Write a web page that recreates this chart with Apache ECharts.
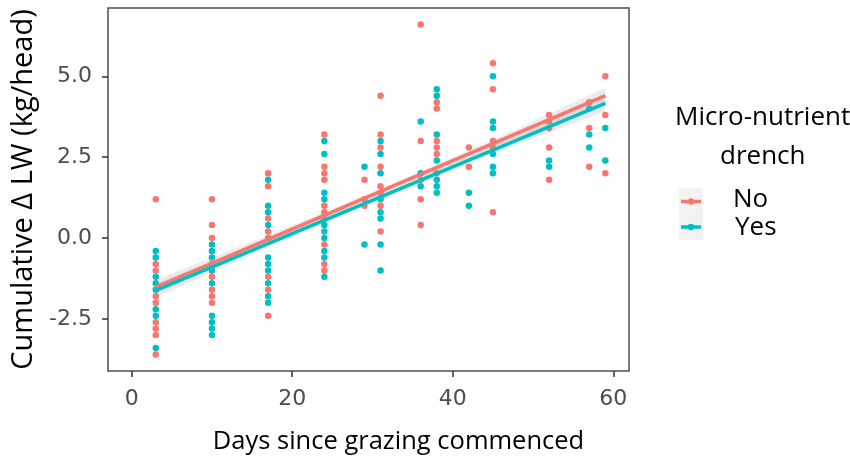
<!DOCTYPE html>
<html>
<head>
<meta charset="utf-8">
<script src="https://cdn.jsdelivr.net/npm/echarts@6/dist/echarts.min.js"></script>
<style>
  html, body { margin: 0; padding: 0; background: #fff; }
  #chart { width: 850px; height: 459px; }
</style>
</head>
<body>
<div id="chart"></div>
<script>
// Sampling days (x positions of each column of points)
const days = [3, 10, 17, 24, 29, 31, 36, 38, 42, 45, 52, 57, 59];

// Cumulative change in liveweight (kg/head) per sampling day, untreated group
const noValues = [
  [1.2, -0.8, -1.0, -1.8, -2.0, -2.6, -2.8, -3.0, -3.6],
  [1.2, 0.4, 0.0, -0.8, -1.2, -1.6, -1.8, -2.0],
  [2.0, 1.6, 0.6, 0.2, 0.0, -1.2, -1.6, -2.4],
  [3.2, 2.2, 2.0, 1.8, 1.0, 0.8, 0.6, -0.2, -0.8, -1.0],
  [1.8, 1.2, 1.0],
  [4.4, 3.2, 2.8, 2.2, 1.6, 1.4, 1.0, 0.2],
  [6.6, 3.0, 1.8, 1.2, 0.4],
  [4.2, 4.0, 3.0, 2.8, 2.6, 2.0],
  [2.8, 2.2],
  [5.4, 4.6, 3.0, 2.8, 0.8],
  [3.8, 3.6, 3.4, 2.8, 1.8],
  [4.2, 3.4, 2.2],
  [5.0, 3.8, 2.0]
];

// Same measurements for the drenched group
const yesValues = [
  [-0.4, -0.6, -1.2, -1.4, -1.6, -2.2, -2.4, -3.4],
  [-0.2, -0.4, -0.6, -1.0, -1.4, -2.4, -2.6, -2.8, -3.0],
  [1.8, 1.0, 0.8, 0.4, -0.6, -0.8, -1.0, -1.4, -1.8, -2.0],
  [3.0, 2.6, 1.4, 1.2, 0.4, 0.2, 0.0, -0.4, -0.6, -1.2],
  [2.2, -0.2],
  [3.0, 2.6, 2.0, 1.2, 0.8, 0.6, -0.2, -1.0],
  [3.6, 2.0, 1.6],
  [4.6, 4.4, 3.2, 2.4, 1.8, 1.6, 1.4],
  [1.4, 1.0],
  [5.0, 3.6, 3.4, 2.6, 2.2, 2.0],
  [2.4, 2.2],
  [4.0, 3.2, 2.8],
  [3.4, 2.4]
];

// Fitted trend per group (model estimate) and half-width of its confidence ribbon
const fitDays = [3, 17, 31, 45, 59];
const noFit = [-1.52, -0.04, 1.44, 2.92, 4.40];
const yesFit = [-1.62, -0.17, 1.27, 2.72, 4.16];
const noBand = [0.22, 0.12, 0.08, 0.12, 0.24];
const yesBand = [0.22, 0.12, 0.08, 0.12, 0.24];

const xTicks = [0, 20, 40, 60];
const yTicks = [-2.5, 0, 2.5, 5];
const groupNames = ['No', 'Yes'];
const groupColors = ['#F8766D', '#00BFC4'];

function toPoints(values) {
  const pts = [];
  values.forEach((col, i) => col.forEach(v => pts.push([days[i], v])));
  return pts;
}

const groups = [toPoints(noValues), toPoints(yesValues)];
const fits = [noFit, yesFit];
const bands = [noBand, yesBand];

const series = [];
groups.forEach((pts, g) => {
  series.push({
    name: groupNames[g],
    type: 'scatter',
    data: pts,
    symbol: 'circle',
    symbolSize: 6.5,
    itemStyle: { color: groupColors[g], opacity: 1 },
    z: 2,
    silent: true
  });
});
fits.forEach((fit, g) => {
  const upper = fitDays.map((d, i) => [d, fit[i] + bands[g][i]]);
  const lower = fitDays.map((d, i) => [d, fit[i] - bands[g][i]]);
  const poly = upper.concat(lower.reverse());
  series.push({
    type: 'custom',
    data: [0],
    z: 3,
    silent: true,
    renderItem: function (params, api) {
      return {
        type: 'polygon',
        shape: { points: poly.map(p => api.coord(p)), smooth: 0 },
        style: { fill: 'rgba(153,153,153,0.2)', stroke: 'none' }
      };
    }
  });
});
fits.forEach((fit, g) => {
  series.push({
    name: groupNames[g] + ' trend',
    type: 'line',
    data: fitDays.map((d, i) => [d, fit[i]]),
    showSymbol: false,
    lineStyle: { color: groupColors[g], width: 3.5 },
    z: 4 + g,
    silent: true
  });
});

const chart = echarts.init(document.getElementById('chart'), null, { renderer: 'canvas' });

const tickFont = 'DejaVu Sans, sans-serif';
const titleFont = 'Open Sans, Noto Sans, sans-serif';

chart.setOption({
  animation: false,
  backgroundColor: '#ffffff',
  grid: {
    left: 108, right: 221, top: 8, bottom: 88,
    containLabel: false,
    outerBoundsMode: 'none',
    show: true, borderColor: '#4d4d4d', borderWidth: 1.5, backgroundColor: '#ffffff'
  },
  xAxis: {
    type: 'value',
    min: -2.95, max: 61.95,
    splitLine: { show: false },
    axisLine: { show: false, onZero: false },
    axisTick: { show: true, length: 6, customValues: xTicks, lineStyle: { color: '#333', width: 1.5 } },
    axisLabel: {
      customValues: xTicks, margin: 17, color: '#4D4D4D', fontSize: 22, fontFamily: tickFont
    },
    name: 'Days since grazing commenced',
    nameLocation: 'middle',
    nameGap: 58,
    nameTextStyle: { color: '#000', fontSize: 25.5, fontFamily: titleFont, padding: [0, 0, 0, 60] }
  },
  yAxis: {
    type: 'value',
    min: -4.11, max: 7.11,
    splitLine: { show: false },
    axisLine: { show: false, onZero: false },
    axisTick: { show: true, length: 6, customValues: yTicks, lineStyle: { color: '#333', width: 1.5 } },
    axisLabel: {
      customValues: yTicks, margin: 16, color: '#4D4D4D', fontSize: 22, fontFamily: tickFont,
      formatter: v => v.toFixed(1)
    },
    name: 'Cumulative \u0394 LW (kg/head)',
    nameLocation: 'middle',
    nameGap: 66,
    nameTextStyle: { color: '#000', fontSize: 29, fontFamily: titleFont }
  },
  graphic: [
    { type: 'text', left: 675, top: 105, style: { text: 'Micro-nutrient', fill: '#000', font: '26px ' + titleFont } },
    { type: 'text', left: 720, top: 144, style: { text: 'drench', fill: '#000', font: '26px ' + titleFont } },
    { type: 'rect', shape: { x: 679, y: 188, width: 24, height: 52 }, style: { fill: '#F2F2F2' } },
    { type: 'line', shape: { x1: 681, y1: 201.5, x2: 701, y2: 201.5 }, style: { stroke: groupColors[0], lineWidth: 3.5 } },
    { type: 'circle', shape: { cx: 691, cy: 201.5, r: 3.2 }, style: { fill: groupColors[0] } },
    { type: 'line', shape: { x1: 681, y1: 227, x2: 701, y2: 227 }, style: { stroke: groupColors[1], lineWidth: 3.5 } },
    { type: 'circle', shape: { cx: 691, cy: 227, r: 3.2 }, style: { fill: groupColors[1] } },
    { type: 'text', left: 733, top: 187, style: { text: 'No', fill: '#000', font: '26px ' + titleFont } },
    { type: 'text', left: 735, top: 215, style: { text: 'Yes', fill: '#000', font: '26px ' + titleFont } }
  ],
  series: series
});
</script>
</body>
</html>
